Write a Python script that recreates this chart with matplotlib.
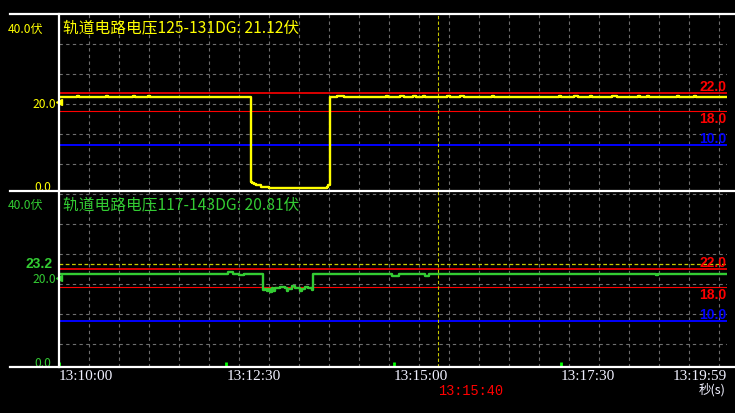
import matplotlib
matplotlib.use('Agg')
import matplotlib.pyplot as plt
import matplotlib.transforms as mtransforms
from matplotlib.lines import Line2D

W, H = 735, 414

# 数据 (秒, 从13:10:00起)
yellow_t = [0, 16, 18, 42, 44, 66, 68, 80, 82,
            172.5, 173.5, 175, 177, 181.5, 188, 196,
            240, 241.5, 243, 249, 256,
            293, 295, 306, 309, 317, 320, 326, 328, 348, 351, 360, 363, 388, 390,
            448, 450, 462, 465, 476, 478, 496, 500, 519, 521, 527, 529, 554, 556, 569, 571, 599]
yellow_v = [21.2, 21.5, 21.2, 21.5, 21.2, 21.5, 21.2, 21.5, 21.2,
            1.5, 1.2, 0.9, 0.6, 0.3, 0.1, 0.0,
            0.3, 0.7, 21.2, 21.5, 21.2,
            21.5, 21.2, 21.5, 21.2, 21.5, 21.2, 21.5, 21.2, 21.5, 21.2, 21.5, 21.2, 21.5, 21.2,
            21.5, 21.2, 21.5, 21.2, 21.5, 21.2, 21.5, 21.2, 21.5, 21.2, 21.5, 21.2, 21.5, 21.2, 21.5, 21.2, 21.2]

green_t = [0, 151.5, 156, 161.4, 166,
           182.6, 184.7, 186.2, 187.7, 189.2, 190.7, 192.2, 193.7, 195.2, 198.2, 202.7,
           204.2, 205.6, 208.6, 211.6, 216.1, 217.6, 220.6, 223.6, 226.6, 228.1,
           299, 305, 328, 332, 535, 537, 599]
green_v = [20.9, 21.3, 20.9, 20.6, 20.9,
           17.3, 17.44, 17.0, 17.44, 16.8, 17.6, 17.0, 17.75, 17.6, 17.9, 17.6,
           17.0, 17.44, 18.07, 17.75, 17.0, 17.44, 17.9, 17.6, 17.13, 20.9,
           20.5, 20.9, 20.5, 20.9, 20.6, 20.9, 20.9]

upper_limit = 22.0
lower_limit = 18.0
min_limit = 10.0
green_ref = 23.2
cursor_t = 340
tick_t = [0, 150, 300, 450]
tick_labels = ['13:10:00', '13:12:30', '13:15:00', '13:17:30']
end_t = 599
end_label = '13:19:59'
cursor_label = '13:15:40'
titles = ['轨道电路电压125-131DG: 21.12伏', '轨道电路电压117-143DG: 20.81伏']
colors = ['#ffff00', '#33cc33']

cjk = ['Noto Sans CJK SC', 'DejaVu Sans']
PXV = 4.3  # 像素/伏

fig = plt.figure(figsize=(W / 100, H / 100), dpi=100, facecolor='black')


def box(l, t, r, b):
    return [l / W, 1 - b / H, (r - l) / W, (b - t) / H]


panels = [(15, 192, 189), (192, 368, 365)]  # top, bottom, zero px
axes = []
for i, (top, bot, zero) in enumerate(panels):
    ax = fig.add_axes(box(59, top, 727, bot))
    ax.set_facecolor('black')
    for s in ax.spines.values():
        s.set_visible(False)
    ax.set_xlim(0, end_t)
    ax.set_ylim((zero - bot) / PXV, (zero - top) / PXV)
    gx = [k * 30 * end_t / 668 for k in range(1, 23)]
    gy = [(zero - y) / PXV for y in range(top + 30 if i == 0 else top + 3, bot, 30)]
    ax.set_xticks(gx)
    ax.set_yticks(gy)
    ax.grid(True, color='#6e6e6e', ls=(0, (3, 3)), lw=0.8)
    ax.tick_params(length=0, labelbottom=False, labelleft=False)
    ax.set_axisbelow(True)

    ax.axhline(upper_limit, color='#ff0000', lw=1.2)
    ax.axhline(lower_limit, color='#ff0000', lw=0.8)
    ax.axhline(min_limit, color='#0000ff', lw=1.4)
    ax.axvline(cursor_t, color='#c8c800', ls=(0, (3, 2)), lw=0.8)
    axes.append(ax)

ax1, ax2 = axes
ax2.axhline(green_ref, color='#c8c800', ls=(0, (3, 2)), lw=0.9)

ax1.plot(yellow_t, yellow_v, color=colors[0], lw=1.7, drawstyle='steps-post', zorder=5)
ax2.plot(green_t, green_v, color=colors[1], lw=1.7, drawstyle='steps-post', zorder=5)

# 20.0 处的小箭头
for ax, c in zip(axes, colors):
    ax.plot([0], [20], marker='<', ms=4, color=c, clip_on=False, zorder=6)

# 底部绿色刻度
ax2.vlines(tick_t, 0, 5 / 176, transform=ax2.get_xaxis_transform(),
           color='#00ff00', lw=2, zorder=6)

# 白色边框线
for y in (15, 192, 368):
    fig.add_artist(Line2D([10 / W, 1], [1 - y / H] * 2, color='white', lw=1.6))
fig.add_artist(Line2D([59 / W] * 2, [1 - 15 / H, 1 - 368 / H], color='white', lw=1.6))


def lab(ax, xpx, val, dy, s, **kw):
    tr = mtransforms.blended_transform_factory(fig.transFigure, ax.transData)
    tr = mtransforms.offset_copy(tr, fig=fig, x=0, y=-dy, units='dots')
    ax.text(xpx / W, val, s, transform=tr, va='center', clip_on=False, **kw)


for ax, c, title, ty in zip(axes, colors, titles, (28, 205)):
    fig.text(63 / W, 1 - ty / H, title, color=c, fontsize=11.3, family=cjk, va='center')
    lab(ax, 8, 40, 12.5, '40.0伏', color=c, fontsize=8.7, family=cjk, ha='left')
    lab(ax, 56, 20, 1, '20.0', color=c, fontsize=8.7, family=cjk, ha='right')
    lab(ax, 51, 0, -1.5, '0.0', color=c, fontsize=8.7, family=cjk, ha='right')
    lab(ax, 726, upper_limit, -7.5, '22.0', color='#ff0000', fontsize=10,
        family='Liberation Sans', weight='bold', ha='right')
    lab(ax, 726, lower_limit, 7.5, '18.0', color='#ff0000', fontsize=10,
        family='Liberation Sans', weight='bold', ha='right')
    lab(ax, 726, min_limit, -7, '10.0', color='#0000ff', fontsize=10,
        family='Liberation Sans', weight='bold', ha='right')

lab(ax2, 52, green_ref, -1, '23.2', color=colors[1], fontsize=10,
    family='Liberation Sans', weight='bold', ha='right')

# 时间标签
xtr = mtransforms.blended_transform_factory(ax2.transData, fig.transFigure)
for t, s in zip(tick_t, tick_labels):
    ax2.text(t, 1 - 377 / H, s, transform=xtr, color='#f0f0ff', fontsize=11,
             family='Liberation Serif', ha='left', va='center')
ax2.text(end_t, 1 - 377 / H, end_label, transform=xtr, color='#f0f0ff', fontsize=11,
         family='Liberation Serif', ha='right', va='center')
ax2.text(cursor_t, 1 - 391 / H, cursor_label, transform=xtr, color='#ff0000', fontsize=9.8,
         family='Liberation Mono', ha='left', va='center')
fig.text(726 / W, 1 - 390 / H, '秒(s)', color='#f0f0ff', fontsize=9, family=cjk,
         ha='right', va='center')

plt.savefig('out.png', dpi=100, facecolor='black')
